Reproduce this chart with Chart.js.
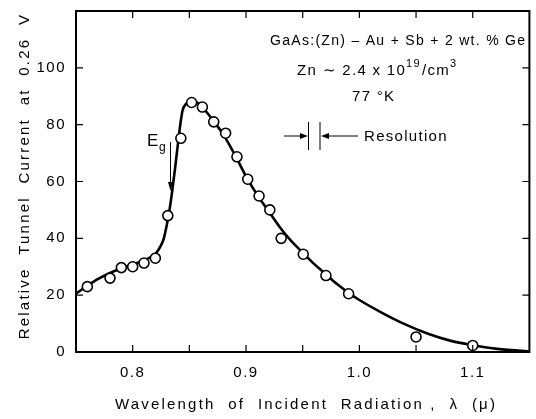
<!DOCTYPE html>
<html>
<head>
<meta charset="utf-8">
<script src="https://cdn.jsdelivr.net/npm/chart.js@4"></script>
<style>
  html, body { margin: 0; padding: 0; background: #fff; }
  #wrap { width: 536px; height: 419px; }
</style>
</head>
<body>
<div id="wrap"><canvas id="myChart" width="536" height="419"></canvas></div>
<script>
// measured points (open circles)
var pointX = [0.76, 0.78, 0.79, 0.80, 0.81, 0.82, 0.831, 0.8425, 0.852, 0.8615, 0.8715, 0.882, 0.892, 0.9015, 0.9115, 0.921, 0.931, 0.9505, 0.9705, 0.9905, 1.05, 1.10];
var pointY = [23, 26, 29.7, 30, 31.3, 33, 48, 75.2, 87.8, 86.2, 81, 77, 68.7, 60.8, 54.9, 50, 40, 34.4, 26.9, 20.5, 5.3, 2.3];

// hand-drawn smooth curve
var curveX = [0.75, 0.76, 0.77, 0.78, 0.79, 0.80, 0.81, 0.815, 0.82, 0.825, 0.8275, 0.83, 0.8325, 0.835, 0.8375, 0.84, 0.842, 0.844, 0.847, 0.851, 0.855, 0.86, 0.87, 0.88, 0.89, 0.90, 0.91, 0.92, 0.93, 0.94, 0.95, 0.96, 0.97, 0.98, 0.99, 1.00, 1.02, 1.04, 1.06, 1.08, 1.10, 1.12, 1.15];
var curveY = [20.5, 23.3, 25.8, 27.8, 29.5, 30.8, 32.2, 33.2, 34.5, 37.5, 40, 44.5, 50, 57, 65, 73.5, 80, 85, 87.3, 88.6, 88.2, 86.8, 82, 76.5, 69.5, 61.8, 55.2, 49.5, 43.8, 39, 35, 31, 27.5, 24, 21, 18.3, 13.8, 9.8, 6.5, 4.0, 2.4, 1.2, 0.2];

var xTicks = [0.8, 0.9, 1.0, 1.1];
var yTicks = [0, 20, 40, 60, 80, 100];

var FONT = '"Liberation Sans", Arial, sans-serif';

function toXY(xs, ys) {
   var out = [];
   xs.forEach(function (v, i) { out.push({ x: v, y: ys[i] }); });
   return out;
}

var spacing = {
   id: 'spacing',
   beforeDraw: function (chart) { chart.ctx.letterSpacing = '1.5px'; },
   afterDraw: function (chart) { chart.ctx.letterSpacing = '0px'; }
};

var extras = {
   id: 'extras',
   afterDraw: function (chart) {
      var ctx = chart.ctx;
      var a = chart.chartArea;
      var xs = chart.scales.x, ys = chart.scales.y;
      ctx.save();
      ctx.strokeStyle = '#000';
      ctx.fillStyle = '#000';

      // frame
      ctx.lineWidth = 2;
      ctx.strokeRect(a.left, a.top, a.right - a.left, a.bottom - a.top);

      // inward ticks
      ctx.lineWidth = 1.2;
      ctx.beginPath();
      for (var v = 0.80; v < 1.15; v += 0.05) {
         var px = xs.getPixelForValue(v);
         ctx.moveTo(px, a.bottom); ctx.lineTo(px, a.bottom - 7);
         ctx.moveTo(px, a.top); ctx.lineTo(px, a.top + 7);
      }
      for (var t = 20; t <= 100; t += 20) {
         var py = ys.getPixelForValue(t);
         ctx.moveTo(a.left, py); ctx.lineTo(a.left + 7, py);
         ctx.moveTo(a.right, py); ctx.lineTo(a.right - 7, py);
      }
      ctx.stroke();

      // axis titles
      ctx.letterSpacing = '2.2px';
      ctx.font = '15px ' + FONT;
      ctx.textAlign = 'center';
      ctx.textBaseline = 'middle';
      ctx.fillText('Wavelength  of  Incident  Radiation ,  \u03bb  (\u03bc)', 306, 405);
      ctx.save();
      ctx.translate(25, 176);
      ctx.rotate(-Math.PI / 2);
      ctx.fillText('Relative  Tunnel  Current  at  0.26  V', 0, 0);
      ctx.restore();

      // annotation texts
      ctx.letterSpacing = '1.3px';
      ctx.font = '14px ' + FONT;
      ctx.textAlign = 'left';
      ctx.fillText('GaAs:(Zn) \u2013 Au + Sb + 2 wt. % Ge', 270, 41);
      ctx.font = '15px ' + FONT;
      ctx.fillText('Zn \u223c 2.4 x 10', 297, 71);
      var w = ctx.measureText('Zn \u223c 2.4 x 10').width;
      ctx.font = '11px ' + FONT;
      ctx.fillText('19', 297 + w, 64);
      var w2 = ctx.measureText('19').width;
      ctx.font = '15px ' + FONT;
      ctx.fillText('/cm', 297 + w + w2 + 1, 71);
      var w3 = ctx.measureText('/cm').width;
      ctx.font = '11px ' + FONT;
      ctx.fillText('3', 297 + w + w2 + w3 + 1, 64);
      ctx.font = '15px ' + FONT;
      ctx.fillText('77 \u00b0K', 352, 97);
      ctx.fillText('Resolution', 364, 137);

      // resolution marker
      ctx.lineWidth = 1;
      ctx.beginPath();
      ctx.moveTo(284, 136); ctx.lineTo(304, 136);
      ctx.moveTo(308.5, 122); ctx.lineTo(308.5, 150);
      ctx.moveTo(320, 122); ctx.lineTo(320, 150);
      ctx.moveTo(326, 136); ctx.lineTo(358, 136);
      ctx.stroke();
      ctx.beginPath();
      ctx.moveTo(308, 136); ctx.lineTo(300, 133); ctx.lineTo(300, 139); ctx.closePath();
      ctx.moveTo(321, 136); ctx.lineTo(329, 133); ctx.lineTo(329, 139); ctx.closePath();
      ctx.fill();

      // Eg marker
      ctx.font = '17px ' + FONT;
      ctx.letterSpacing = '0px';
      ctx.fillText('E', 147, 141);
      ctx.font = '12px ' + FONT;
      ctx.fillText('g', 159, 148);
      ctx.beginPath();
      ctx.moveTo(170.5, 142); ctx.lineTo(170.5, 184);
      ctx.stroke();
      ctx.beginPath();
      ctx.moveTo(170.5, 191); ctx.lineTo(168, 182); ctx.lineTo(173, 182); ctx.closePath();
      ctx.fill();
      ctx.restore();
   }
};

var ctx = document.getElementById('myChart').getContext('2d');
var myChart = new Chart(ctx, {
   type: 'scatter',
   data: {
      datasets: [{
         label: 'points',
         data: toXY(pointX, pointY),
         showLine: false,
         pointRadius: 5,
         pointBackgroundColor: '#fff',
         pointBorderColor: '#000',
         pointBorderWidth: 1.6,
         order: 1
      }, {
         label: 'curve',
         data: toXY(curveX, curveY),
         showLine: true,
         pointRadius: 0,
         borderColor: '#000',
         borderWidth: 2.6,
         cubicInterpolationMode: 'monotone',
         order: 2
      }]
   },
   plugins: [spacing, extras],
   options: {
      responsive: false,
      animation: false,
      layout: { padding: { top: 4, right: 1, left: 0, bottom: 0 } },
      plugins: { legend: { display: false }, tooltip: { enabled: false } },
      scales: {
         x: {
            type: 'linear',
            min: 0.75,
            max: 1.15,
            afterBuildTicks: function (scale) {
               scale.ticks = xTicks.map(function (v) { return { value: v }; });
            },
            ticks: {
               color: '#000',
               padding: 4,
               font: { family: FONT, size: 15 },
               callback: function (v) { return v.toFixed(1); }
            },
            grid: { display: false },
            border: { display: false },
            afterFit: function (scale) { scale.height = 67; }
         },
         y: {
            min: 0,
            max: 120,
            afterBuildTicks: function (scale) {
               scale.ticks = yTicks.map(function (v) { return { value: v }; });
            },
            ticks: {
               color: '#000',
               padding: 2,
               font: { family: FONT, size: 15 }
            },
            grid: { display: false },
            border: { display: false },
            afterFit: function (scale) { scale.width = 76; }
         }
      }
   }
});
</script>
</body>
</html>
